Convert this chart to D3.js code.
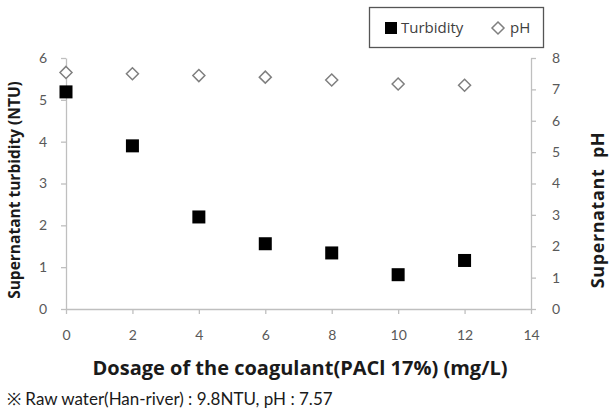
<!DOCTYPE html>
<html><head><meta charset="utf-8">
<script src="https://cdn.jsdelivr.net/npm/d3@7"></script>
<style>
html,body{margin:0;padding:0;background:#fff;overflow:hidden}
svg{display:block}
</style></head>
<body>
<svg id="c" width="613" height="410"></svg>
<script>
const dosage = [0, 2, 4, 6, 8, 10, 12];
const turbidity = [5.19, 3.9, 2.2, 1.56, 1.34, 0.82, 1.16];
const ph = [7.54, 7.5, 7.44, 7.39, 7.3, 7.17, 7.13];
const xTicks = [0, 2, 4, 6, 8, 10, 12, 14];
const yLeftTicks = [0, 1, 2, 3, 4, 5, 6];
const yRightTicks = [0, 1, 2, 3, 4, 5, 6, 7, 8];
const xTitle = "Dosage of the coagulant(PACl 17%) (mg/L)";
const yLeftTitle = "Supernatant turbidity (NTU)";
const yRightTitle = "Supernatant  pH";
const footnote = "※ Raw water(Han-river) : 9.8NTU, pH : 7.57";
const legendLabels = ["Turbidity", "pH"];

const svg = d3.select("#c");
const L = 66, R = 531, T = 58, B = 309;
const axisColor = "#bfbfbf";
const tickText = "#595959";
const font = "Lato, 'Open Sans', sans-serif";
const titleFont = "'Open Sans', Lato, sans-serif";

const x = d3.scaleLinear().domain([0, 14]).range([L, R]);
const yL = d3.scaleLinear().domain([0, 6]).range([B, T]);
const yR = d3.scaleLinear().domain([0, 8]).range([B, T]);
const fmt = d3.format("d");

function styleAxis(g) {
  g.select(".domain").attr("stroke", axisColor).attr("stroke-width", 1.3);
  g.selectAll(".tick line").attr("stroke", axisColor).attr("stroke-width", 1.3);
  g.selectAll(".tick text").attr("fill", tickText).style("font-family", font).style("font-size", "14px");
}

const gx = svg.append("g").attr("transform", `translate(0,${B})`)
  .call(d3.axisBottom(x).tickValues(xTicks).tickFormat(fmt).tickSize(5).tickSizeOuter(0).tickPadding(16));
styleAxis(gx);

const gl = svg.append("g").attr("transform", `translate(${L},0)`)
  .call(d3.axisLeft(yL).tickValues(yLeftTicks).tickFormat(fmt).tickSize(5).tickSizeOuter(0).tickPadding(14));
styleAxis(gl);

const gr = svg.append("g").attr("transform", `translate(${R},0)`)
  .call(d3.axisRight(yR).tickValues(yRightTicks).tickFormat(fmt).tickSize(5).tickSizeOuter(0).tickPadding(16));
styleAxis(gr);

// pH diamonds
const ds = 6;
svg.append("g").selectAll("path").data(dosage).join("path")
  .attr("d", (d, i) => {
    const cx = x(d), cy = yR(ph[i]);
    return `M${cx},${cy - ds}L${cx + ds},${cy}L${cx},${cy + ds}L${cx - ds},${cy}Z`;
  })
  .attr("fill", "#fff").attr("stroke", "#7f7f7f").attr("stroke-width", 1.5);

// Turbidity squares
const sq = 13;
svg.append("g").selectAll("rect").data(dosage).join("rect")
  .attr("x", d => x(d) - sq / 2)
  .attr("y", (d, i) => yL(turbidity[i]) - sq / 2)
  .attr("width", sq).attr("height", sq).attr("fill", "#000");

// Titles
svg.append("text").attr("x", 300).attr("y", 375)
  .attr("text-anchor", "middle").attr("fill", "#1a1a1a")
  .style("font-family", titleFont).style("font-size", "20px").style("font-weight", "700")
  .text(xTitle);

svg.append("text").attr("transform", `translate(20,${190}) rotate(-90)`)
  .attr("text-anchor", "middle").attr("fill", "#1a1a1a")
  .style("font-family", titleFont).style("font-size", "15.5px").style("font-weight", "700")
  .text(yLeftTitle);

svg.append("text").attr("transform", `translate(604,${210}) rotate(-90)`)
  .attr("text-anchor", "middle").attr("fill", "#1a1a1a")
  .style("font-family", titleFont).style("font-size", "18px").style("font-weight", "700")
  .style("letter-spacing", "0.6px")
  .attr("xml:space", "preserve").style("white-space", "pre")
  .text(yRightTitle);

svg.append("text").attr("x", 7).attr("y", 405)
  .attr("fill", "#1a1a1a")
  .style("font-family", font).style("font-size", "17px")
  .text(footnote);

// Legend
const lg = svg.append("g");
lg.append("rect").attr("x", 369.5).attr("y", 7.5).attr("width", 174).attr("height", 40)
  .attr("fill", "#fff").attr("stroke", "#555").attr("stroke-width", 1.3);
lg.append("rect").attr("x", 385).attr("y", 22).attr("width", 12).attr("height", 12).attr("fill", "#000");
lg.append("text").attr("x", 401).attr("y", 33).attr("fill", "#404040")
  .style("font-family", titleFont).style("font-size", "15px").text(legendLabels[0]);
const lx = 498, ly = 28;
lg.append("path").attr("d", `M${lx},${ly - 6}L${lx + 6},${ly}L${lx},${ly + 6}L${lx - 6},${ly}Z`)
  .attr("fill", "#fff").attr("stroke", "#7f7f7f").attr("stroke-width", 1.5);
lg.append("text").attr("x", 510).attr("y", 33).attr("fill", "#404040")
  .style("font-family", titleFont).style("font-size", "15px").text(legendLabels[1]);
</script>
</body></html>
